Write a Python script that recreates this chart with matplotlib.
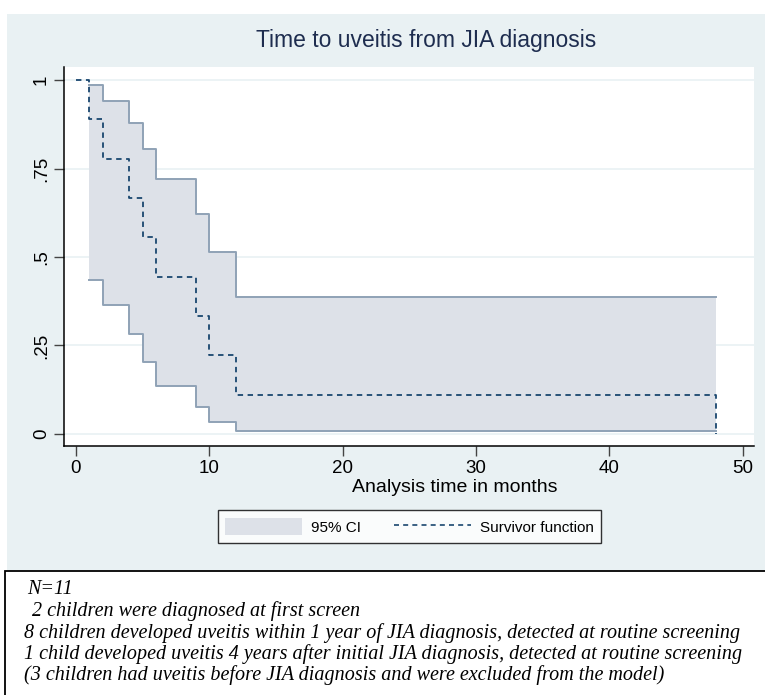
import matplotlib.pyplot as plt
from matplotlib.patches import Rectangle, Patch
from matplotlib.lines import Line2D

# Kaplan-Meier estimate (months, survivor, 95% CI)
times = [0, 1, 2, 4, 5, 6, 9, 10, 12, 48]
survivor = [1.0, 0.889, 0.778, 0.667, 0.556, 0.444, 0.333, 0.222, 0.111, 0.0]
ci_times = [1, 2, 4, 5, 6, 9, 10, 12, 48]
ci_upper = [0.986, 0.940, 0.880, 0.806, 0.721, 0.623, 0.514, 0.388, 0.388]
ci_lower = [0.434, 0.365, 0.282, 0.204, 0.136, 0.077, 0.034, 0.007, 0.007]

xticks = [0, 10, 20, 30, 40, 50]
yticks = [0, 0.25, 0.5, 0.75, 1]
ytick_labels = ['0', '.25', '.5', '.75', '1']

notes = ['N=11',
         ' 2 children were diagnosed at first screen',
         '8 children developed uveitis within 1 year of JIA diagnosis, detected at routine screening',
         '1 child developed uveitis 4 years after initial JIA diagnosis, detected at routine screening',
         '(3 children had uveitis before JIA diagnosis and were excluded from the model)']

bg = '#e9f1f3'
shade = '#dde1e8'
ci_edge = '#8fa2b6'
navy = '#1a476f'

plt.rcParams['font.family'] = ['Liberation Sans', 'DejaVu Sans']

W, H = 765, 695
fig = plt.figure(figsize=(W / 100, H / 100), dpi=100, facecolor='white')

# graph region and note box, in pixels from the top-left
fig.patches.append(Rectangle((7 / W, 1 - 570 / H), (W - 7) / W, (570 - 14) / H,
                             transform=fig.transFigure, facecolor=bg, edgecolor='none', zorder=-2))
fig.patches.append(Rectangle((5 / W, -0.05), 1.0, (0.05 + 1 - 571 / H),
                             transform=fig.transFigure, facecolor='none', edgecolor='black',
                             linewidth=1.3, zorder=-1))

ax = fig.add_axes([64 / W, 1 - 446 / H, (754 - 64) / W, (446 - 67) / H])
ax.set_facecolor('white')

ax.fill_between(ci_times, ci_lower, ci_upper, step='post', color=shade, linewidth=0, zorder=2)
ax.step(ci_times, ci_upper, where='post', color=ci_edge, linewidth=1.4, zorder=3)
ax.step(ci_times, ci_lower, where='post', color=ci_edge, linewidth=1.4, zorder=3)
ax.step(times, survivor, where='post', color=navy, linewidth=1.3,
        linestyle=(0, (3, 2.5)), zorder=4)

for y in yticks:
    ax.axhline(y, color=bg, linewidth=1.2, zorder=1)

ax.set_xlim(-0.9, 50.86)
ax.set_ylim(-0.034, 1.037)
ax.set_xticks(xticks)
ax.set_yticks(yticks)
ax.set_yticklabels(ytick_labels, rotation=90, va='center')
ax.tick_params(axis='both', direction='out', length=7, width=1, color='#444444',
               labelsize=13.5, pad=3)
for s in ['top', 'right']:
    ax.spines[s].set_visible(False)
for s in ['left', 'bottom']:
    ax.spines[s].set_linewidth(1.1)
ax.set_xlabel('Analysis time in months', fontsize=14)
ax.xaxis.set_label_coords(0.567, -0.088)

fig.text(426 / W, 1 - 41 / H, 'Time to uveitis from JIA diagnosis', ha='center', va='center',
         fontsize=16.5, color='#1e2d4f')

handles = [Patch(facecolor=shade, edgecolor='none'),
           Line2D([], [], color=navy, linewidth=1.2, linestyle=(0, (3, 2.5)))]
leg = fig.legend(handles, ['95% CI', 'Survivor function'], loc='center',
                 bbox_to_anchor=(409.5 / W, 1 - 526.5 / H), ncol=2, fontsize=11,
                 frameon=True, fancybox=False, edgecolor='black', facecolor='white',
                 handlelength=5.0, handleheight=1.4, handletextpad=0.6, columnspacing=2.2,
                 borderpad=0.5)
leg.get_frame().set_linewidth(1.0)

y0 = 590
for i, line in enumerate(notes):
    x0 = 27 if i < 2 else 24
    fig.text(x0 / W, 1 - (y0 + i * 21.3) / H, line, ha='left', va='center',
             fontsize=14.5, style='italic', family='Liberation Serif')

fig.savefig('out.png', dpi=100, facecolor='white')
